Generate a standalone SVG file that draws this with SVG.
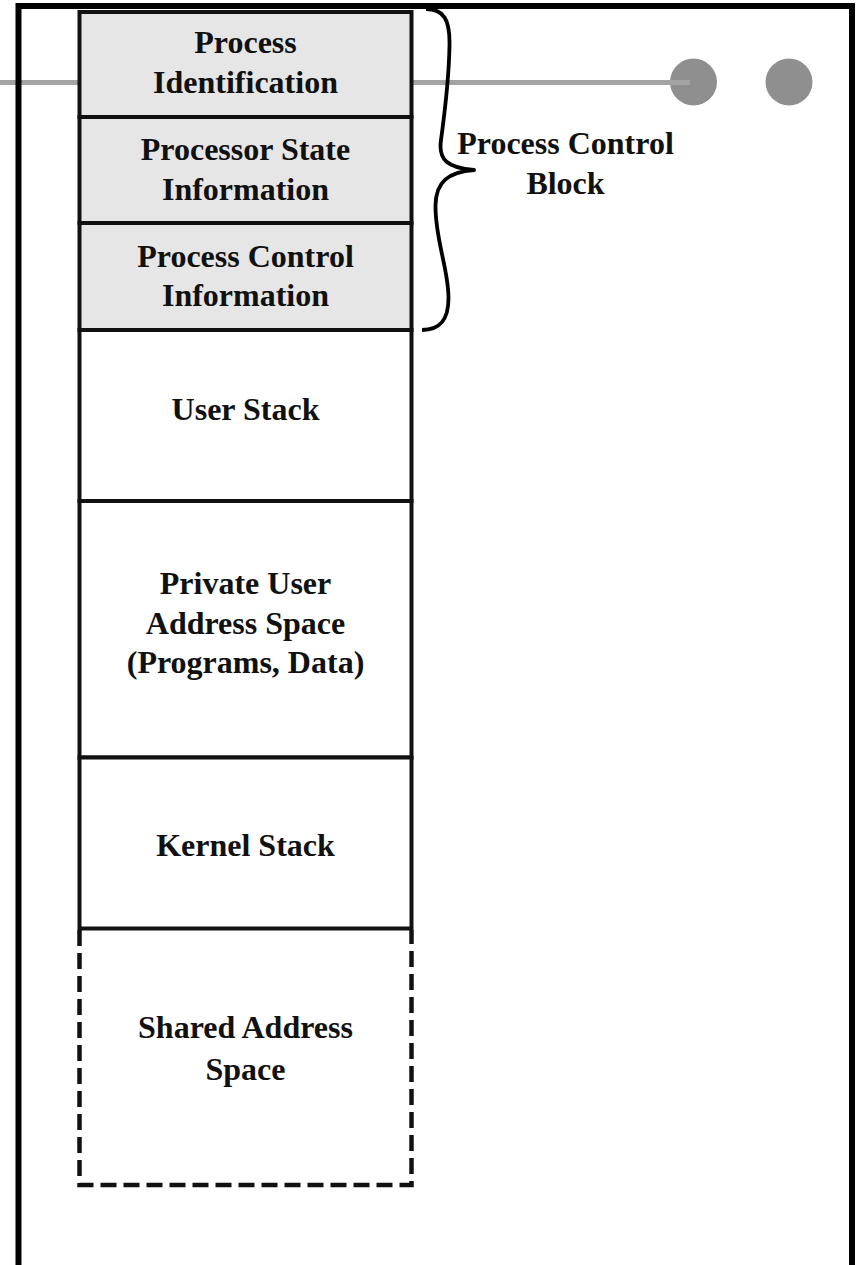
<svg xmlns="http://www.w3.org/2000/svg" width="856" height="1265" viewBox="0 0 856 1265">
  <style>
    .lbl { font-family: "Liberation Serif", "Times New Roman", serif; font-weight: bold; font-size: 32px; fill: #111; text-anchor: middle; }
    .seg { stroke: #111; stroke-width: 4; }
    .pcb { fill: #e6e6e6; }
    .plain { fill: #ffffff; }
    .frame { fill: none; stroke: #000; stroke-width: 6; }
  </style>

  <rect x="0" y="0" width="856" height="1265" fill="#ffffff"/>

  <!-- slide decoration: rule and bullets -->
  <g id="decoration">
    <circle cx="693.5" cy="82" r="23.5" fill="#8f8f8f"/>
    <circle cx="789" cy="82" r="23.5" fill="#8f8f8f"/>
    <line x1="0" y1="82.5" x2="690" y2="82.5" stroke="#a3a3a3" stroke-width="5"/>
  </g>

  <!-- outer frame, open at the bottom -->
  <path class="frame" d="M18.5,1265 V6 H852 V1265"/>

  <!-- process image segments -->
  <g id="process-identification">
    <rect class="pcb seg" x="79.5" y="12" width="332" height="105"/>
    <text class="lbl" x="245.5" y="53">Process</text>
    <text class="lbl" x="245.5" y="92.5">Identification</text>
  </g>
  <g id="processor-state">
    <rect class="pcb seg" x="79.5" y="117" width="332" height="106"/>
    <text class="lbl" x="245.5" y="159.5">Processor State</text>
    <text class="lbl" x="245.5" y="199.5">Information</text>
  </g>
  <g id="process-control-info">
    <rect class="pcb seg" x="79.5" y="223" width="332" height="107"/>
    <text class="lbl" x="245.5" y="266.5">Process Control</text>
    <text class="lbl" x="245.5" y="306">Information</text>
  </g>
  <g id="user-stack">
    <rect class="plain seg" x="79.5" y="330" width="332" height="171"/>
    <text class="lbl" x="245.5" y="420">User Stack</text>
  </g>
  <g id="private-address-space">
    <rect class="plain seg" x="79.5" y="501" width="332" height="256.5"/>
    <text class="lbl" x="245.5" y="594">Private User</text>
    <text class="lbl" x="245.5" y="633.5">Address Space</text>
    <text class="lbl" x="245.5" y="673">(Programs, Data)</text>
  </g>
  <g id="kernel-stack">
    <rect class="plain seg" x="79.5" y="757.5" width="332" height="171"/>
    <text class="lbl" x="245.5" y="856">Kernel Stack</text>
  </g>
  <g id="shared-address-space">
    <path d="M79.5,930 V1185 H411.5 V930" fill="none" stroke="#111" stroke-width="4.5" stroke-dasharray="16 7"/>
    <text class="lbl" x="245.5" y="1038">Shared Address</text>
    <text class="lbl" x="245.5" y="1080">Space</text>
  </g>

  <!-- brace grouping the control block rows -->
  <g id="connectors">
    <path d="M426,9 C444,9 450,20 449.5,45 C449,80 444,118 441,140 C438,160 448,168 474,170 C448,172 436,182 435.5,205 C435,240 448.5,268 448.5,298 C448.5,320 440,330 422,330" fill="none" stroke="#000" stroke-width="3.8" stroke-linejoin="round"/>
  </g>
  <g id="pcb-label">
    <text class="lbl" x="565.5" y="154">Process Control</text>
    <text class="lbl" x="565.5" y="194">Block</text>
  </g>
</svg>
